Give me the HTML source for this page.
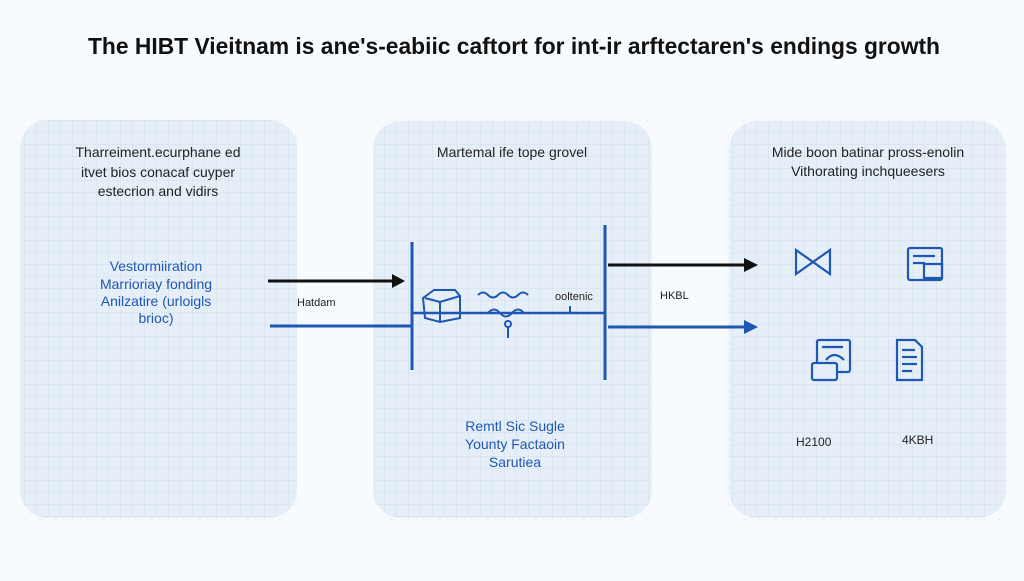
<!DOCTYPE html>
<html><head><meta charset="utf-8"><style>
html,body{margin:0;padding:0}
body{width:1024px;height:576px;overflow:hidden;background:#f7fafd;font-family:"Liberation Sans",sans-serif}
</style></head><body>
<svg width="1024" height="576" viewBox="0 0 1024 576" xmlns="http://www.w3.org/2000/svg" font-family="Liberation Sans, sans-serif">
<defs>
<pattern id="g" width="16" height="16" patternUnits="userSpaceOnUse">
<rect x="7" y="7" width="2" height="2" fill="#dfe7ef"/>
</pattern>
<pattern id="g2" width="12" height="12" patternUnits="userSpaceOnUse">
<rect width="12" height="12" fill="#e6eff7"/>
<rect x="0" y="0" width="1" height="12" fill="#dae6f1"/>
<rect x="0" y="0" width="12" height="1" fill="#dae6f1"/>
</pattern>
</defs>
<rect width="1024" height="576" fill="#f8fbfd"/>
<rect width="1024" height="576" fill="url(#g)"/>
<rect x="20" y="120" width="277" height="398" rx="28" fill="url(#g2)"/>
<rect x="373" y="121" width="279" height="397" rx="28" fill="url(#g2)"/>
<rect x="729" y="121" width="277" height="397" rx="28" fill="url(#g2)"/>

<text x="88" y="54" textLength="852" lengthAdjust="spacingAndGlyphs" font-size="23" font-weight="bold" fill="#111">The HIBT Vieitnam is ane's-eabiic caftort for int-ir arftectaren's endings growth</text>

<g font-size="14" fill="#222" text-anchor="middle">
<text x="158" y="157">Tharreiment.ecurphane ed</text>
<text x="158" y="177">itvet bios conacaf cuyper</text>
<text x="158" y="196">estecrion and vidirs</text>
<text x="512" y="157">Martemal ife tope grovel</text>
<text x="868" y="157">Mide boon batinar pross-enolin</text>
<text x="868" y="176">Vithorating inchqueesers</text>
</g>
<g font-size="14" fill="#1f57b5" text-anchor="middle">
<text x="156" y="271">Vestormiiration</text>
<text x="156" y="289">Marrioriay fonding</text>
<text x="156" y="306">Anilzatire (urloigls</text>
<text x="156" y="323">brioc)</text>
<text x="515" y="431">Remtl Sic Sugle</text>
<text x="515" y="449">Younty Factaoin</text>
<text x="515" y="467">Sarutiea</text>
</g>
<g font-size="11" fill="#222">
<text x="297" y="306">Hatdam</text>
<text x="555" y="300">ooltenic</text>
<text x="660" y="299">HKBL</text>
<text x="796" y="446" font-size="12">H2100</text>
<text x="902" y="444" font-size="12">4KBH</text>
</g>

<line x1="268" y1="281" x2="394" y2="281" stroke="#111" stroke-width="3"/>
<polygon points="392,274 405,281 392,288" fill="#111"/>
<line x1="270" y1="326" x2="412" y2="326" stroke="#1f57b5" stroke-width="3"/>
<line x1="412" y1="242" x2="412" y2="370" stroke="#1f57b5" stroke-width="3"/>
<line x1="412" y1="313" x2="605" y2="313" stroke="#1f57b5" stroke-width="2.5"/>
<line x1="605" y1="225" x2="605" y2="380" stroke="#1f57b5" stroke-width="3"/>
<line x1="570" y1="306" x2="570" y2="313" stroke="#1f57b5" stroke-width="2"/>
<line x1="608" y1="265" x2="746" y2="265" stroke="#111" stroke-width="3"/>
<polygon points="744,258 758,265 744,272" fill="#111"/>
<line x1="608" y1="327" x2="746" y2="327" stroke="#1f57b5" stroke-width="3"/>
<polygon points="744,320 758,327 744,334" fill="#1f57b5"/>

<g fill="none" stroke="#1f57b5" stroke-width="2">
<path d="M423,298 L434,290 L455,290 L460,296 L460,318 L440,322 L425,318 Z"/>
<path d="M425,298 L440,302 L460,296 M440,302 L440,322"/>
<path d="M478,295 q5,-5 10,0 q5,5 10,0 q5,-5 10,0 q5,5 10,0 q5,-5 10,0"/>
<path d="M488,313 q6,-7 12,0 q6,7 12,0 q6,-7 12,0"/>
<circle cx="508" cy="324" r="3"/>
<line x1="508" y1="327" x2="508" y2="338"/>
</g>

<g fill="none" stroke="#1f57b5" stroke-width="2.2">
<path d="M796,250 L796,274 L830,250 L830,274 Z"/>
<rect x="908" y="248" width="34" height="32" rx="2"/>
<line x1="913" y1="256" x2="935" y2="256"/><line x1="913" y1="263" x2="925" y2="263"/>
<rect x="924" y="264" width="18" height="14"/>
<rect x="817" y="340" width="33" height="32" rx="2"/>
<line x1="822" y1="347" x2="843" y2="347"/>
<path d="M826,360 q8,-10 18,0"/>
<rect x="812" y="363" width="25" height="17" rx="2" fill="#e5eef7"/>
<path d="M897,340 L915,340 L922,347 L922,380 L897,380 Z"/>
<line x1="902" y1="350" x2="915" y2="350"/><line x1="902" y1="357" x2="917" y2="357"/><line x1="902" y1="364" x2="917" y2="364"/><line x1="902" y1="371" x2="912" y2="371"/>
</g>
</svg>
</body></html>
